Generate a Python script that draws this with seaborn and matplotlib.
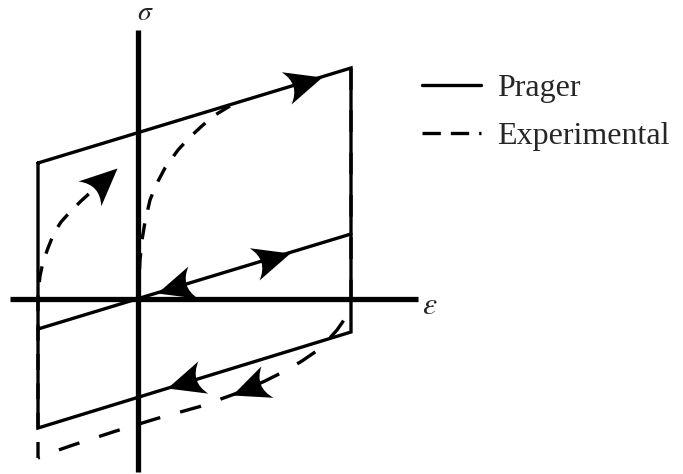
import numpy as np
import pandas as pd
import matplotlib
matplotlib.use("Agg")
import matplotlib.pyplot as plt
import seaborn as sns
from matplotlib.path import Path
from matplotlib.markers import MarkerStyle
from matplotlib.transforms import Affine2D
from matplotlib.lines import Line2D

# --- Prager model (linear kinematic hardening), strain eps vs stress sigma ---
prager_eps = [-1.00, 2.13, 2.13, -1.00, -1.00]
prager_sig = [1.36, 2.31, -0.33, -1.29, 1.36]
# hardening line through the origin
origin_line_eps = [-1.00, 2.13]
origin_line_sig = [-0.30, 0.65]

# --- Experimental response ---
# first loading from the origin up to the hardening branch
exp_load_eps = [0.00, 0.01, 0.02, 0.04, 0.07, 0.12, 0.18, 0.27, 0.40, 0.52, 0.65, 0.77, 0.92]
exp_load_sig = [0.00, 0.19, 0.39, 0.59, 0.77, 0.99, 1.14, 1.31, 1.49, 1.62, 1.74, 1.84, 1.93]
# unloading and reversed loading
exp_unload_eps = [2.13, 2.13, 2.10, 2.06, 1.99, 1.90, 1.80, 1.64, 1.47, 1.27, 1.07, 0.94,
                  0.62, 0.19, -0.22, -0.65, -0.88, -1.00]
exp_unload_sig = [2.31, -0.01, -0.11, -0.21, -0.31, -0.41, -0.51, -0.62, -0.72, -0.82, -0.91, -0.96,
                  -1.075, -1.195, -1.32, -1.46, -1.54, -1.59]
# reloading in the positive direction
exp_reload_eps = [-1.00, -1.00, -0.995, -0.98, -0.95, -0.90, -0.84, -0.77, -0.68, -0.57, -0.46, -0.34, -0.21]
exp_reload_sig = [-1.59, 0.07, 0.09, 0.23, 0.37, 0.51, 0.66, 0.77, 0.87, 0.98, 1.08, 1.19, 1.31]

# axis extents
eps_axis = [-1.28, 2.80]
sig_axis = [-1.73, 2.69]

# arrowheads on the Prager branches: tip strain, direction, branch
prager_arrow_eps = [1.84, 1.52, 0.19, 0.29]
prager_arrow_dir = [+1, +1, -1, -1]
prager_arrow_line = ["top", "origin", "origin", "bottom"]

legend_labels = ["Prager", "Experimental"]

sns.set_theme(style="white")
plt.rcParams["font.family"] = ["Liberation Serif", "DejaVu Serif"]
plt.rcParams["mathtext.fontset"] = "stix"

fig = plt.figure(figsize=(6.83, 4.74), dpi=100)
ax = fig.add_axes([0, 0, 1, 1])
ax.set_xlim(-1.38, 5.45)
ax.set_ylim(-1.75, 2.99)
ax.axis("off")

LW = 2.4
AXW = 3.8

# coordinate axes
ax.plot(eps_axis, [0, 0], color="black", lw=AXW, solid_capstyle="butt", zorder=4)
ax.plot([0, 0], sig_axis, color="black", lw=AXW, solid_capstyle="butt", zorder=4)

# Prager loop and line through the origin
sns.lineplot(x=prager_eps, y=prager_sig, sort=False, estimator=None, color="black",
             lw=LW, ax=ax, zorder=3, solid_joinstyle="miter")
sns.lineplot(x=origin_line_eps, y=origin_line_sig, sort=False, estimator=None, color="black",
             lw=LW, ax=ax, zorder=3)

# experimental curves (dashed)
sns.lineplot(x=exp_load_eps, y=exp_load_sig, sort=False, estimator=None, color="black",
             lw=LW, ax=ax, zorder=2, linestyle=(0, (4.8, 4.2)))
sns.lineplot(x=exp_unload_eps, y=exp_unload_sig, sort=False, estimator=None, color="black",
             lw=LW, ax=ax, zorder=2, linestyle=(0, (6.5, 6.2)))
sns.lineplot(x=exp_reload_eps, y=exp_reload_sig, sort=False, estimator=None, color="black",
             lw=LW, ax=ax, zorder=2, linestyle=(0, (4.8, 4.0)))

# arrowhead shape with a concave back, tip at the origin pointing along +x
head = Path(
    [(0, 0), (-1.0, 0.45), (-0.62, 0.0), (-1.0, -0.45), (0, 0), (0, 0)],
    [Path.MOVETO, Path.LINETO, Path.CURVE3, Path.CURVE3, Path.LINETO, Path.CLOSEPOLY],
)


def draw_head(x_tip, y_tip, x_back, y_back):
    p1 = ax.transData.transform((x_back, y_back))
    p2 = ax.transData.transform((x_tip, y_tip))
    ang = np.degrees(np.arctan2(p2[1] - p1[1], p2[0] - p1[0]))
    m = MarkerStyle(head, transform=Affine2D().rotate_deg(ang))
    ax.plot([x_tip], [y_tip], marker=m, markersize=54, color="black",
            markeredgewidth=0, linestyle="none", zorder=5)


lines = {
    "top": (prager_eps[0:2], prager_sig[0:2]),
    "origin": (origin_line_eps, origin_line_sig),
    "bottom": ([prager_eps[3], prager_eps[2]], [prager_sig[3], prager_sig[2]]),
}
for e, d, name in zip(prager_arrow_eps, prager_arrow_dir, prager_arrow_line):
    xs, ys = lines[name]
    s = np.interp(e, xs, ys)
    slope = (ys[1] - ys[0]) / (xs[1] - xs[0])
    draw_head(e, s, e - 0.1 * d, s - 0.1 * d * slope)

# arrowheads on the experimental curves
i = 11
draw_head(exp_unload_eps[i], exp_unload_sig[i], exp_unload_eps[i - 1], exp_unload_sig[i - 1])
draw_head(exp_reload_eps[-1], exp_reload_sig[-1], exp_reload_eps[-3], exp_reload_sig[-3])

# axis labels
ax.text(0.07, 2.855, r"$\sigma$", fontsize=20, ha="center", va="center")
ax.text(2.92, -0.07, r"$\varepsilon$", fontsize=23, ha="center", va="center")

# legend
handles = [
    Line2D([], [], color="black", lw=LW),
    Line2D([], [], color="black", lw=LW, linestyle=(0, (5.5, 3.0))),
]
ax.legend(handles, legend_labels, loc="upper left", bbox_to_anchor=(422 / 683, 1 - 74 / 474),
          frameon=False, fontsize=23, handlelength=1.85, handletextpad=0.5,
          labelspacing=0.58, borderpad=0, borderaxespad=0)

fig.savefig("out.png", dpi=100)
